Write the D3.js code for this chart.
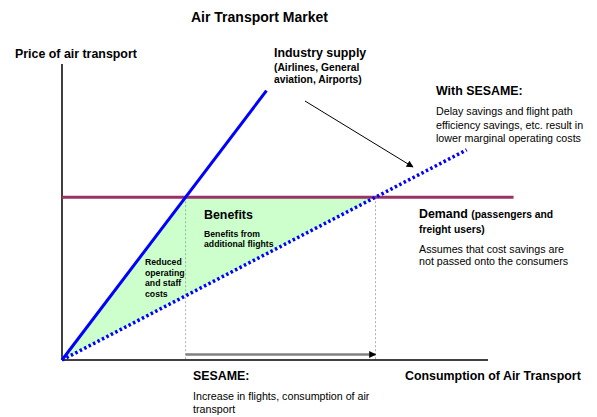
<!DOCTYPE html>
<html>
  <head>
    <meta charset="utf-8">
    <script src="https://d3js.org/d3.v7.min.js"></script>
    <style>
      body { margin: 0; background: #fff; }
      svg text { font-family: "Liberation Sans", Arial, sans-serif; fill: #000; }
      .big { font-size: 12.4px; font-weight: bold; }
      .sub { font-size: 10.3px; font-weight: bold; }
      .note { font-size: 10.7px; }
      .tiny { font-size: 8.7px; font-weight: bold; }
    </style>
  </head>
<body>
  <script type="text/javascript">
    "use strict";

    // chart data (abstract price / quantity units)
    var supplyLine = [[0, 0], [48, 91]];       // industry supply today
    var sesameLine = [[0, 0], [95, 71]];       // supply with SESAME
    var demandLevel = 55;                       // demand price level
    var demandEnd = 106;
    var axisMax = [100, 100];

    var width = 597, height = 417;
    var x = d3.scaleLinear().domain([0, axisMax[0]]).range([62, 488]);
    var y = d3.scaleLinear().domain([0, axisMax[1]]).range([360, 64]);

    // where a line through the origin crosses the demand level
    function crossX(line) {
      var p = line[1];
      return demandLevel * p[0] / p[1];
    }
    var xA = crossX(supplyLine), xB = crossX(sesameLine);

    var svg = d3.select("body").append("svg")
      .attr("width", width).attr("height", height);

    var defs = svg.append("defs");
    defs.append("marker").attr("id", "headBlack")
      .attr("viewBox", "0 0 10 10").attr("refX", 9).attr("refY", 5)
      .attr("markerWidth", 9).attr("markerHeight", 7).attr("markerUnits", "userSpaceOnUse")
      .attr("orient", "auto")
      .append("path").attr("d", "M0,0 L10,5 L0,10 z").attr("fill", "#000");
    defs.append("marker").attr("id", "headGrey")
      .attr("viewBox", "0 0 10 10").attr("refX", 9).attr("refY", 5)
      .attr("markerWidth", 8).attr("markerHeight", 7).attr("markerUnits", "userSpaceOnUse")
      .attr("orient", "auto")
      .append("path").attr("d", "M0,0 L10,5 L0,10 z").attr("fill", "#000");

    var line = d3.line().x(function(d) { return x(d[0]); }).y(function(d) { return y(d[1]); });

    // benefit area
    svg.append("path")
      .attr("d", line([[0, 0], [xA, demandLevel], [xB, demandLevel]]) + "Z")
      .attr("fill", "#ccffcc");

    // dashed drop lines
    [xA, xB].forEach(function(v) {
      svg.append("line")
        .attr("x1", x(v)).attr("x2", x(v))
        .attr("y1", y(demandLevel)).attr("y2", y(0))
        .attr("stroke", "#999").attr("stroke-width", 0.8)
        .attr("stroke-dasharray", "2,2");
    });

    // consumption increase arrow
    svg.append("line")
      .attr("x1", x(xA)).attr("x2", x(xB))
      .attr("y1", y(0) - 5.5).attr("y2", y(0) - 5.5)
      .attr("stroke", "#808080").attr("stroke-width", 2.5)
      .attr("marker-end", "url(#headGrey)");

    // axes
    svg.append("line")
      .attr("x1", x(0)).attr("x2", x(0)).attr("y1", y(0)).attr("y2", y(axisMax[1]))
      .attr("stroke", "#000").attr("stroke-width", 1.5);
    svg.append("line")
      .attr("x1", x(0)).attr("x2", x(axisMax[0])).attr("y1", y(0)).attr("y2", y(0))
      .attr("stroke", "#000").attr("stroke-width", 1.5);

    // demand
    svg.append("line")
      .attr("x1", x(0)).attr("x2", x(demandEnd))
      .attr("y1", y(demandLevel)).attr("y2", y(demandLevel))
      .attr("stroke", "#993366").attr("stroke-width", 3);

    // supply lines
    svg.append("path").attr("d", line(supplyLine))
      .attr("fill", "none").attr("stroke", "#0000ff").attr("stroke-width", 3);
    svg.append("path").attr("d", line(sesameLine))
      .attr("fill", "none").attr("stroke", "#0000ff").attr("stroke-width", 3.5)
      .attr("stroke-dasharray", "2.5,2.5");

    // shift arrow
    svg.append("line")
      .attr("x1", 305).attr("y1", 101).attr("x2", 413).attr("y2", 167)
      .attr("stroke", "#000").attr("stroke-width", 1)
      .attr("marker-end", "url(#headBlack)");

    function addText(tx, ty, cls, lines, lh) {
      var t = svg.append("text").attr("class", cls).attr("x", tx).attr("y", ty);
      lines.forEach(function(s, i) {
        t.append("tspan").attr("x", tx).attr("y", ty + i * lh).text(s);
      });
      return t;
    }

    addText(191, 22, "big", ["Air Transport Market"], 0).style("font-size", "14px");
    addText(15, 58, "big", ["Price of air transport"], 0);
    addText(274, 57, "big", ["Industry supply"], 0);
    addText(274, 71, "sub", ["(Airlines, General", "aviation, Airports)"], 12);
    addText(436, 95, "big", ["With SESAME:"], 0);
    addText(436, 115, "note", ["Delay savings and flight path",
      "efficiency savings, etc. result in", "lower marginal operating costs"], 13.5);
    addText(204, 219, "big", ["Benefits"], 0);
    addText(204, 237, "tiny", ["Benefits from", "additional flights"], 10);
    addText(145, 265, "tiny", ["Reduced", "operating", "and staff", "costs"], 10.5);

    var dem = svg.append("text").attr("x", 419).attr("y", 218);
    dem.append("tspan").attr("class", "big").text("Demand ");
    dem.append("tspan").attr("class", "sub").text("(passengers and");
    addText(419, 233, "sub", ["freight users)"], 0);
    addText(419, 253, "note", ["Assumes that cost savings are", "not passed onto the consumers"], 11.5);

    addText(193, 380, "big", ["SESAME:"], 0);
    addText(405, 380, "big", ["Consumption of Air Transport"], 0);
    addText(193, 400, "note", ["Increase in flights, consumption of air", "transport"], 12.5);
  </script>
</body>
</html>
